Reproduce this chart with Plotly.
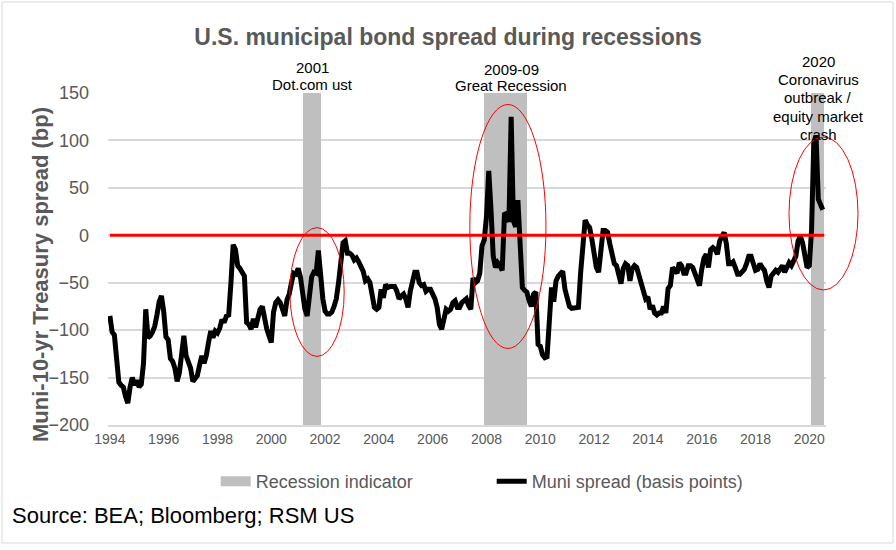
import plotly.graph_objects as go

# ---- data ----
start_year = 1994
spread = [
    # 1994
    -85, -102, -105, -135, -155, -158, -160, -170, -177, -160, -150, -158,
    # 1995
    -153, -160, -157, -135, -78, -108, -106, -102, -96, -84, -70, -64,
    # 1996
    -80, -107, -110, -130, -133, -140, -154, -145, -120, -106, -127, -135,
    # 1997
    -140, -154, -150, -148, -137, -127, -135, -127, -113, -101, -108, -101,
    # 1998
    -103, -98, -89, -92, -85, -84, -50, -10, -15, -32, -35, -38,
    # 1999
    -43, -92, -94, -99, -88, -97, -87, -78, -75, -88, -99, -106,
    # 2000
    -113, -81, -71, -68, -71, -78, -85, -68, -62, -50, -40, -41,
    # 2001
    -35, -44, -64, -78, -85, -67, -44, -39, -40, -16, -45, -67,
    # 2002
    -80, -83, -83, -81, -75, -67, -50, -29, -8, -6, -19, -19,
    # 2003
    -21, -26, -24, -28, -33, -38, -48, -46, -50, -64, -76, -78,
    # 2004
    -76, -57, -66, -52, -55, -54, -54, -54, -59, -67, -64, -62,
    # 2005
    -67, -76, -59, -48, -39, -39, -50, -53, -52, -59, -57, -57,
    # 2006
    -62, -67, -76, -94, -99, -87, -78, -80, -78, -71, -69, -76,
    # 2007
    -76, -71, -69, -67, -74, -78, -45, -50, -48, -40, -11, -5,
    # 2008
    20, 68, 27, -22, -34, -29, -32, -37, 22, 23, 14, 125,
    # 2009
    15, 9, 37, -5, -55, -58, -60, -69, -75, -62, -60, -115,
    # 2010
    -117, -126, -129, -128, -80, -55, -70, -48, -43, -41, -38, -57,
    # 2011
    -67, -75, -77, -77, -76, -76, -39, -4, 16, 11, 8, -4,
    # 2012
    -22, -34, -39, -15, 5, 5, 3, -9, -22, -30, -32, -45,
    # 2013
    -51, -35, -30, -32, -48, -35, -32, -34, -43, -51, -58, -67,
    # 2014
    -65, -78, -74, -82, -84, -82, -82, -75, -82, -56, -53, -34,
    # 2015
    -37, -40, -29, -32, -40, -40, -32, -32, -34, -40, -46, -53,
    # 2016
    -36, -24, -20, -34, -15, -13, -15, -20, -6, -2, 3, -9,
    # 2017
    -30, -30, -28, -34, -41, -41, -39, -36, -30, -22, -22, -32,
    # 2018
    -37, -36, -30, -34, -37, -48, -55, -43, -39, -37, -39, -36,
    # 2019
    -32, -39, -32, -29, -32, -27, -22, -6, -1, -8, -25, -34,
    # 2020
    -32, 6, 98, 105, 38, 33, 27,
]
months = [start_year + i / 12 for i in range(len(spread))]

rec_start = [2001.17, 2007.92, 2020.08]
rec_end = [2001.83, 2009.50, 2020.55]
rec_top = [150, 150, 150]
rec_bottom = [-200, -200, -200]

rec_labels = [
    ["2001", "Dot.com ust"],
    ["2009-09", "Great Recession"],
    ["2020", "Coronavirus", "outbreak /", "equity market", "crash"],
]

x_ticks = list(range(1994, 2021, 2))
y_ticks = list(range(-200, 151, 50))

GRAY = "#595959"
REC_GRAY = "#BFBFBF"

# plot-area pixel geometry (for paper-unit placement of text)
PL, PR, PT, PB = 108, 826, 93, 425


def px_x(px):
    return (px - PL) / (PR - PL)


def px_y(py):
    return (PB - py) / (PB - PT)


fig = go.Figure()

fig.add_trace(go.Bar(
    x=[(s + e) / 2 for s, e in zip(rec_start, rec_end)],
    y=[t - b for t, b in zip(rec_top, rec_bottom)],
    base=rec_bottom,
    width=[e - s for s, e in zip(rec_start, rec_end)],
    marker=dict(color=REC_GRAY, line=dict(width=0)),
    name="Recession indicator", showlegend=False,
    legendgroup="rec", hoverinfo="skip",
))
# legend entry for the recession bars (wide grey swatch)
fig.add_trace(go.Scatter(
    x=[None], y=[None], mode="lines",
    line=dict(color=REC_GRAY, width=10),
    name="Recession indicator", legendgroup="rec",
))

fig.add_trace(go.Scatter(
    x=months, y=spread, mode="lines",
    line=dict(color="black", width=5),
    name="Muni spread (basis points)",
))

fig.add_trace(go.Scatter(
    x=[months[0], rec_end[-1]], y=[0, 0], mode="lines",
    line=dict(color="#FF0000", width=3),
    showlegend=False, hoverinfo="skip",
))

# ellipses around recession episodes
ellipses = [
    (2000.69, 2002.71, -127.7, 8.1),
    (2007.38, 2010.21, -119.3, 137.9),
]
shapes = []
for x0, x1, y0, y1 in ellipses:
    shapes.append(dict(type="circle", xref="x", yref="y", x0=x0, x1=x1, y0=y0, y1=y1,
                       line=dict(color="#FF0000", width=1), layer="above"))
# 2020 ellipse extends past the plot area, so it is placed in paper units
shapes.append(dict(type="circle", xref="paper", yref="paper",
                   x0=px_x(789), x1=px_x(858), y0=px_y(290), y1=px_y(137),
                   line=dict(color="#FF0000", width=1), layer="above"))
# outer frame
shapes.append(dict(type="rect", xref="paper", yref="paper",
                   x0=px_x(2), x1=px_x(893), y0=px_y(543), y1=px_y(2),
                   line=dict(color="#D9D9D9", width=1), layer="below"))

ann_font = dict(size=15, color="black")
label_pos = [  # (center x px, first line y px, line step px)
    (312, 68, 17),
    (511, 69, 17),
    (818, 62, 18),
]
annotations = []
for lines, (cx, y0, step) in zip(rec_labels, label_pos):
    for i, ln in enumerate(lines):
        annotations.append(dict(x=px_x(cx), y=px_y(y0 + i * step), xref="paper", yref="paper",
                                text=ln, showarrow=False, xanchor="center", yanchor="middle",
                                font=ann_font))
annotations += [
    dict(x=px_x(40), y=px_y(275), xref="paper", yref="paper", xanchor="center", yanchor="middle",
         text="<b>Muni-10-yr Treasury spread (bp)</b>", textangle=-90,
         showarrow=False, font=dict(size=22, color=GRAY)),
    dict(x=px_x(10), y=px_y(515), xref="paper", yref="paper", xanchor="left", yanchor="middle",
         text="Source: BEA; Bloomberg; RSM US",
         showarrow=False, font=dict(size=22, color="black")),
]

fig.update_layout(
    width=896, height=550,
    margin=dict(l=PL, r=896 - PR, t=PT, b=550 - PB),
    paper_bgcolor="white", plot_bgcolor="white",
    font=dict(family="Arial, Liberation Sans, sans-serif", color=GRAY),
    title=dict(text="<b>U.S. municipal bond spread during recessions</b>",
               x=0.5, xref="container", xanchor="center",
               y=1 - 37 / 550, yref="container", yanchor="middle",
               font=dict(size=23, color=GRAY)),
    showlegend=True,
    legend=dict(orientation="h", x=0.15, xanchor="left", y=-0.17, yanchor="middle",
                font=dict(size=18, color=GRAY), bgcolor="rgba(0,0,0,0)",
                entrywidth=231, traceorder="normal"),
    shapes=shapes,
    annotations=annotations,
    bargap=0,
)

fig.update_xaxes(
    range=[1993.93, 2020.62], tickvals=x_ticks, ticktext=[str(v) for v in x_ticks],
    showgrid=False, zeroline=False, showline=True, linecolor="#D9D9D9", linewidth=1.5,
    ticks="", automargin=False,
    tickfont=dict(size=14, color=GRAY, family="Liberation Sans Narrow, Arial Narrow, Arial"),
)
fig.update_yaxes(
    range=[-200, 150], tickvals=y_ticks, showgrid=True, gridcolor="#D9D9D9", gridwidth=1.5,
    zeroline=False, showline=False, ticks="", ticklabelstandoff=18, automargin=False,
    tickfont=dict(size=18, color=GRAY),
)

fig.write_html("out.html", config={"displayModeBar": False},
               post_script="document.body.style.margin='0';")
